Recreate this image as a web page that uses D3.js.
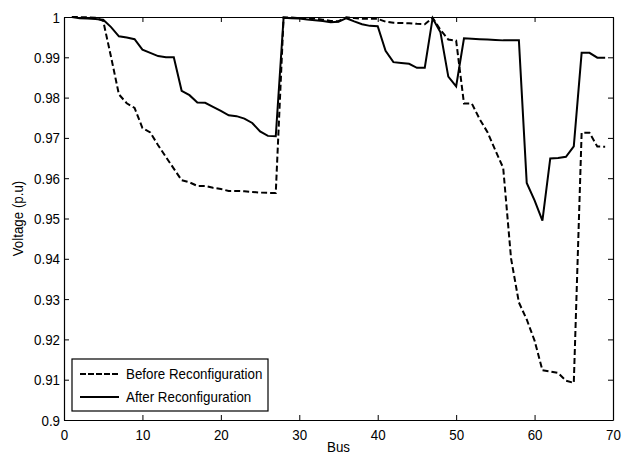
<!DOCTYPE html>
<html>
<head>
  <meta charset="utf-8">
  <title>Voltage profile</title>
  <script src="https://d3js.org/d3.v7.min.js"></script>
  <style>
    html, body {
      margin: 0;
      padding: 0;
      background: #fff;
    }
    text {
      font-family: "Liberation Sans", Arial, sans-serif;
      font-size: 14.5px;
      fill: #000;
    }
  </style>
</head>
<body>
  <svg id="chart" width="626" height="462"></svg>

  <script>
    // bus numbers and voltages (p.u)
    var buses = d3.range(1, 70);

    var before = [1.0000, 0.99997, 0.99993, 0.99984, 0.99902, 0.99009, 0.98080, 0.97859, 0.97745, 0.97245,
      0.97134, 0.96819, 0.96526, 0.96237, 0.95950, 0.95897, 0.95809, 0.95808, 0.95761, 0.95732,
      0.95683, 0.95683, 0.95676, 0.95660, 0.95643, 0.95636, 0.95634, 0.99993, 0.99985, 0.99973,
      0.99971, 0.99961, 0.99935, 0.99901, 0.99895, 0.99992, 0.99975, 0.99959, 0.99954, 0.99954,
      0.99884, 0.99855, 0.99851, 0.99845, 0.99830, 0.99820, 0.99979, 0.99680, 0.99440, 0.99415,
      0.97853, 0.97853, 0.97465, 0.97141, 0.96693, 0.96256, 0.94011, 0.92917, 0.92494, 0.91970,
      0.91234, 0.91205, 0.91167, 0.90977, 0.90919, 0.97129, 0.97129, 0.96784, 0.96783];

    var after = [1.0000, 0.9997, 0.9996, 0.9995, 0.9993, 0.9975, 0.9952, 0.9949, 0.9945, 0.9919,
      0.9911, 0.9903, 0.9900, 0.9900, 0.9817, 0.9806, 0.9788, 0.9787, 0.9777, 0.9767,
      0.9756, 0.9754, 0.9748, 0.9737, 0.9716, 0.9705, 0.9704, 0.9998, 0.9997, 0.9996,
      0.9994, 0.9992, 0.9990, 0.9987, 0.9988, 0.9997, 0.9989, 0.9982, 0.9978, 0.9977,
      0.9916, 0.9888, 0.9886, 0.9884, 0.9874, 0.9874, 0.9997, 0.9962, 0.9852, 0.9828,
      0.9947, 0.9946, 0.9945, 0.9944, 0.9943, 0.9942, 0.9942, 0.9942, 0.9588, 0.9545,
      0.9495, 0.9649, 0.9650, 0.9653, 0.9679, 0.9911, 0.9911, 0.9899, 0.9899];

    var xTicks = [0, 10, 20, 30, 40, 50, 60, 70];
    var yTicks = [0.9, 0.91, 0.92, 0.93, 0.94, 0.95, 0.96, 0.97, 0.98, 0.99, 1];
    var seriesNames = ["Before Reconfiguration", "After Reconfiguration"];

    var margin = {left: 64, right: 13, top: 17, bottom: 42};
    var width = 626 - margin.left - margin.right;
    var height = 462 - margin.top - margin.bottom;
    var sx = 0.92; // the original font looks a bit narrow

    var svg = d3.select("#chart");
    var g = svg.append("g").attr("transform", "translate(" + margin.left + "," + margin.top + ")");

    var x = d3.scaleLinear().domain([0, 70]).range([0, width]);
    var y = d3.scaleLinear().domain([0.9, 1]).range([height, 0]);

    function fmt(d) { return String(+d.toFixed(2)); }

    // axes, MATLAB style: ticks pointing inward on all four sides
    var bottom = g.append("g")
      .attr("transform", "translate(0," + height + ")")
      .call(d3.axisBottom(x).tickValues(xTicks).tickSizeInner(-5).tickSizeOuter(0).tickFormat(fmt));
    bottom.selectAll("text")
      .attr("y", 0).attr("dy", 0)
      .attr("transform", "translate(0,20) scale(" + sx + ",1)");

    var left = g.append("g")
      .call(d3.axisLeft(y).tickValues(yTicks).tickSizeInner(-5).tickSizeOuter(0).tickFormat(fmt));
    left.selectAll("text")
      .attr("x", 0).attr("dy", "0.35em")
      .attr("transform", "translate(-4,0) scale(" + sx + ",1)");

    g.append("g")
      .call(d3.axisTop(x).tickValues(xTicks).tickSizeInner(-5).tickSizeOuter(0).tickFormat(""));
    g.append("g")
      .attr("transform", "translate(" + width + ",0)")
      .call(d3.axisRight(y).tickValues(yTicks).tickSizeInner(-5).tickSizeOuter(0).tickFormat(""));

    g.selectAll(".domain").attr("stroke", "#000").attr("stroke-width", 1.2);
    g.selectAll(".tick line").attr("stroke", "#000");
    g.selectAll(".tick text").style("font-size", "14.5px").style("font-family", "'Liberation Sans', Arial, sans-serif");

    // lines
    var line = d3.line()
      .x((d, i) => x(buses[i]))
      .y(d => y(d));

    g.append("path")
      .datum(before)
      .attr("fill", "none")
      .attr("stroke", "#000")
      .attr("stroke-width", 2)
      .attr("stroke-dasharray", "6,3")
      .attr("d", line);

    g.append("path")
      .datum(after)
      .attr("fill", "none")
      .attr("stroke", "#000")
      .attr("stroke-width", 2)
      .attr("d", line);

    // axis titles
    svg.append("text")
      .attr("text-anchor", "middle")
      .attr("transform", "translate(" + (margin.left + width / 2) + ",452) scale(" + sx + ",1)")
      .text("Bus");

    svg.append("text")
      .attr("text-anchor", "middle")
      .attr("transform", "translate(23," + (margin.top + height / 2) + ") rotate(-90) scale(" + sx + ",1)")
      .text("Voltage (p.u)");

    // legend
    var lg = g.append("g").attr("transform", "translate(8," + (359 - margin.top) + ")");
    lg.append("rect")
      .attr("width", 196).attr("height", 52)
      .attr("fill", "#fff").attr("stroke", "#000").attr("stroke-width", 1.2);

    seriesNames.forEach(function(name, i) {
      var yy = 15 + i * 23;
      lg.append("line")
        .attr("x1", 8).attr("x2", 47).attr("y1", yy).attr("y2", yy)
        .attr("stroke", "#000").attr("stroke-width", 2)
        .attr("stroke-dasharray", i == 0 ? "6,2" : null);
      lg.append("text")
        .attr("transform", "translate(54," + (yy + 5) + ") scale(" + sx + ",1)")
        .text(name);
    });
  </script>
</body>
</html>
